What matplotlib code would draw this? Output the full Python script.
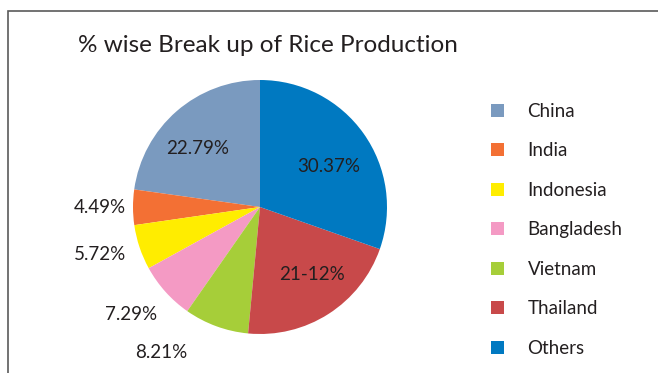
import numpy as np
import matplotlib
matplotlib.use("Agg")
import matplotlib.pyplot as plt
from matplotlib.patches import Rectangle, Patch

categories = ["China", "India", "Indonesia", "Bangladesh", "Vietnam", "Thailand", "Others"]
values = [22.79, 4.49, 5.72, 7.29, 8.21, 21.12, 30.37]
label_texts = ["22.79%", "4.49%", "5.72%", "7.29%", "8.21%", "21-12%", "30.37%"]
colors = ["#7A9ABF", "#F37034", "#FFED00", "#F49AC4", "#A6CE39", "#C8494A", "#0079C1"]
title = "% wise Break up of Rice Production"

# label placement style: radial distance and angular tweak (deg)
label_dist = [0.67, 1.26, 1.31, 1.32, 1.38, 0.67, 0.63]
label_dang = [6, 0, -2, -2, -14, 5, -5]

plt.rcParams['font.family'] = ['Lato', 'DejaVu Sans']

fig = plt.figure(figsize=(6.58, 3.73), dpi=100)
W, H = 658, 373

# outer frame (left/top visible, extends beyond image)
fig.add_artist(Rectangle((7.5 / W, -0.1), 1.2, (373 - 10.5) / H + 0.1,
                         transform=fig.transFigure, fill=False,
                         edgecolor="#5a5a5a", linewidth=1.2))

cx, cy, r = 260, 207, 127
ax = fig.add_axes([(cx - r) / W, (H - cy - r) / H, 2 * r / W, 2 * r / H])
wedges, _ = ax.pie(values, colors=colors, startangle=90, counterclock=True,
                   wedgeprops=dict(linewidth=0))
ax.set_xlim(-1, 1)
ax.set_ylim(-1, 1)
ax.set_aspect("equal")
ax.axis("off")

for w, txt, d, da in zip(wedges, label_texts, label_dist, label_dang):
    ang = np.deg2rad((w.theta1 + w.theta2) / 2 + da)
    ax.text(d * np.cos(ang), d * np.sin(ang), txt, ha="center", va="center",
            fontsize=13.5, color="#231f20", clip_on=False)

fig.text(268 / W, 1 - 45 / H, title, ha="center", va="center",
         fontsize=17.5, color="#231f20")

handles = [Patch(facecolor=c, edgecolor="none") for c in colors]
fig.legend(handles, categories, loc="upper left",
           bbox_to_anchor=(474 / W, 1 - 86 / H), frameon=False,
           fontsize=13.5, handlelength=0.7, handleheight=0.7,
           handletextpad=1.25, labelspacing=1.2, labelcolor="#231f20")

fig.savefig("out.png", dpi=100)
